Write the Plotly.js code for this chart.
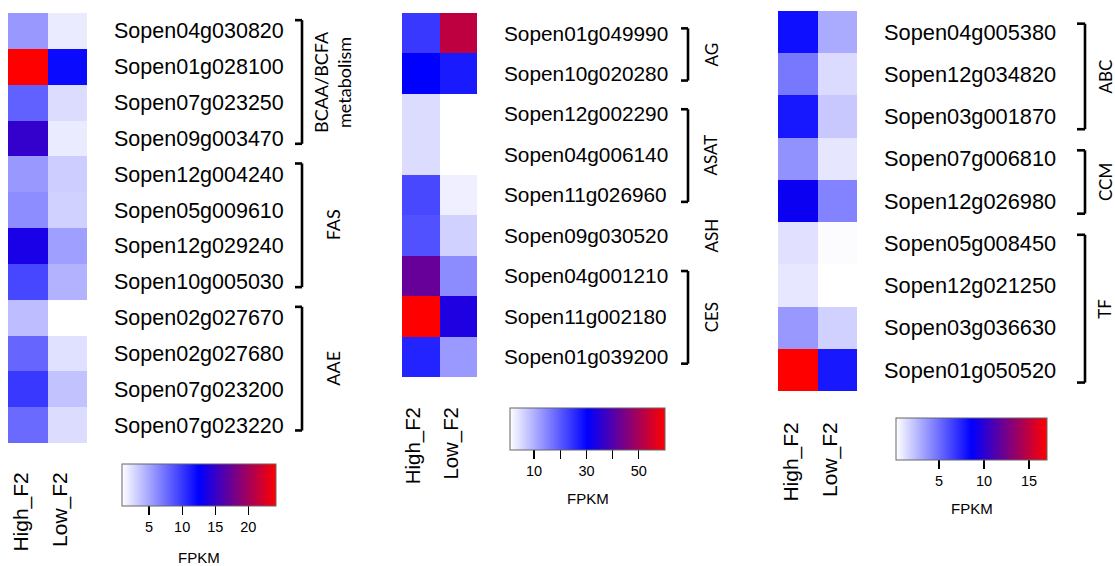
<!DOCTYPE html>
<html><head><meta charset="utf-8">
<script src="https://cdn.plot.ly/plotly-3.0.1.min.js"></script>
<style>html,body{margin:0;padding:0;background:#fff}</style>
</head><body><div id="chart" style="width:1115px;height:566px"></div>
<script>
const samples = ['High_F2', 'Low_F2'];

const genes1 = ['Sopen04g030820','Sopen01g028100','Sopen07g023250','Sopen09g003470','Sopen12g004240','Sopen05g009610','Sopen12g029240','Sopen10g005030','Sopen02g027670','Sopen02g027680','Sopen07g023200','Sopen07g023220'];
const high1 = [5.6, 24.2, 8.1, 14.9, 5.6, 6.1, 13.7, 9.3, 3.9, 7.9, 10.0, 7.7];
const low1  = [1.8, 12.1, 2.5, 1.8, 3.2, 3.0, 5.3, 4.4, 0.9, 2.3, 3.7, 2.5];
const groupLabels1 = ['BCAA/BCFA<br>metabolism', 'FAS', 'AAE'];
const groupStart1 = [0, 4, 8];
const groupEnd1   = [3, 7, 11];
const tickVals1 = [5, 10, 15, 20];
const tickText1 = ['5', '10', '15', '20'];

const genes2 = ['Sopen01g049990','Sopen10g020280','Sopen12g002290','Sopen04g006140','Sopen11g026960','Sopen09g030520','Sopen04g001210','Sopen11g002180','Sopen01g039200'];
const high2 = [23.9, 30.4, 4.9, 4.9, 22.0, 21.0, 42.2, 60.0, 26.3];
const low2  = [52.6, 27.4, 0.8, 0.8, 2.6, 6.1, 14.1, 34.0, 12.6];
const groupLabels2 = ['AG', 'ASAT', 'ASH', 'CES'];
const groupStart2 = [0, 2, 5, 6];
const groupEnd2   = [1, 4, 5, 8];
const tickVals2 = [10, 20, 30, 40, 50];
const tickText2 = ['10', '', '30', '', '50'];

const genes3 = ['Sopen04g005380','Sopen12g034820','Sopen03g001870','Sopen07g006810','Sopen12g026980','Sopen05g008450','Sopen12g021250','Sopen03g036630','Sopen01g050520'];
const high3 = [8.1, 4.65, 7.8, 3.8, 9.0, 1.2, 1.0, 3.6, 17.0];
const low3  = [3.0, 1.4, 2.0, 1.04, 4.3, 0.3, 0.2, 1.7, 7.8];
const groupLabels3 = ['ABC', 'CCM', 'TF'];
const groupStart3 = [0, 3, 5];
const groupEnd3   = [2, 4, 8];
const tickVals3 = [5, 10, 15];
const tickText3 = ['5', '10', '15'];

const colorbarTitle = 'FPKM';

const W = 1115, H = 566;
const fx = p => p / W;
const fy = p => 1 - p / H;
const colorscale = [[0, '#ffffff'], [0.5, '#0000ff'], [1, '#ff0000']];
const baseFont = 'Liberation Sans, Arial, Helvetica, sans-serif';
const groupFont = 'Lato, Noto Sans, sans-serif';

const panels = [
  {genes: genes1, high: high1, low: low1, gl: groupLabels1, gs: groupStart1, ge: groupEnd1, tv: tickVals1, tt: tickText1,
   box: [8, 87, 13, 443], geneSize: 21.5, colSize: 21, colStand: 24,
   cb: [122, 276, 464, 506], cbTitleY: 557, brX: 302, brTick: 7, brOff: [-0.3, 0.15], labX: 333, labSize: 18},
  {genes: genes2, high: high2, low: low2, gl: groupLabels2, gs: groupStart2, ge: groupEnd2, tv: tickVals2, tt: tickText2,
   box: [402, 477, 13, 377], geneSize: 20.8, colSize: 20.4, colStand: 25,
   cb: [510, 665, 408, 450], cbTitleY: 498, brX: 688, brTick: 7, brOff: [-0.12, 0.17], labX: 711, labSize: 17},
  {genes: genes3, high: high3, low: low3, gl: groupLabels3, gs: groupStart3, ge: groupEnd3, tv: tickVals3, tt: tickText3,
   box: [778, 857, 11, 391], geneSize: 21.8, colSize: 21, colStand: 26,
   cb: [896, 1047, 418, 460], cbTitleY: 508, brX: 1085, brTick: 8, brOff: [-0.2, 0.3], labX: 1105, labSize: 17}
];

const data = [];
const layout = {
  width: W, height: H, margin: {l: 0, r: 0, t: 0, b: 0},
  paper_bgcolor: '#fff', plot_bgcolor: '#fff',
  font: {family: baseFont, color: '#000'},
  showlegend: false, shapes: [], annotations: []
};

panels.forEach((p, i) => {
  const s = i === 0 ? '' : String(i + 1);
  const [x0, x1, y0, y1] = p.box;
  const [c0, c1, cTop, cBot] = p.cb;
  data.push({
    type: 'heatmap', x: samples, y: p.genes,
    z: p.genes.map((g, k) => [p.high[k], p.low[k]]),
    colorscale: colorscale, xaxis: 'x' + s, yaxis: 'y' + s,
    hovertemplate: '%{y} %{x}: %{z}<extra></extra>',
    colorbar: {
      orientation: 'h', x: fx(c0), xanchor: 'left', y: fy(cTop), yanchor: 'top',
      len: c1 - c0, lenmode: 'pixels', thickness: cBot - cTop, thicknessmode: 'pixels',
      xpad: 0, ypad: 0, outlinecolor: '#666', outlinewidth: 1, borderwidth: 0,
      ticks: 'outside', ticklen: 9, tickwidth: 1.3, tickcolor: '#000',
      tickvals: p.tv, ticktext: p.tt, tickfont: {size: 14.5, color: '#000', family: baseFont}
    }
  });
  layout.annotations.push({
    text: colorbarTitle, xref: 'paper', yref: 'paper', x: fx((c0 + c1) / 2), y: fy(p.cbTitleY),
    xanchor: 'center', yanchor: 'middle', showarrow: false,
    font: {size: 15, color: '#000', family: baseFont}
  });
  layout['xaxis' + s] = {
    domain: [fx(x0), fx(x1)], anchor: 'y' + s, tickangle: -90,
    ticklabelstandoff: p.colStand, ticklabelshift: -7,
    tickfont: {size: p.colSize, family: baseFont, color: '#000'},
    showgrid: false, zeroline: false, showline: false, ticks: '', fixedrange: true
  };
  layout['yaxis' + s] = {
    domain: [fy(y1), fy(y0)], anchor: 'x' + s, side: 'right', autorange: 'reversed',
    ticklabelstandoff: 26, tickfont: {size: p.geneSize, family: baseFont, color: '#000'},
    showgrid: false, zeroline: false, showline: false, ticks: '', fixedrange: true
  };
  p.gl.forEach((label, g) => {
    const a = p.gs[g] + p.brOff[0], b = p.ge[g] + p.brOff[1];
    let mid = p.gs[g];
    if (p.ge[g] > p.gs[g]) {
      mid = (a + b) / 2;
      const line = {color: '#000', width: 2.6};
      const xv = fx(p.brX), xt = fx(p.brX - p.brTick);
      layout.shapes.push({type: 'line', xref: 'paper', yref: 'y' + s, x0: xv, x1: xv, y0: a, y1: b, line: line});
      layout.shapes.push({type: 'line', xref: 'paper', yref: 'y' + s, x0: xt, x1: xv, y0: a, y1: a, line: line});
      layout.shapes.push({type: 'line', xref: 'paper', yref: 'y' + s, x0: xt, x1: xv, y0: b, y1: b, line: line});
    }
    layout.annotations.push({
      text: label, xref: 'paper', yref: 'y' + s, x: fx(p.labX), y: mid,
      xanchor: 'center', yanchor: 'middle', textangle: -90, showarrow: false,
      font: {family: groupFont, size: p.labSize, color: '#000'}
    });
  });
});

Plotly.newPlot('chart', data, layout, {displayModeBar: false, staticPlot: true});
</script>
</body></html>
